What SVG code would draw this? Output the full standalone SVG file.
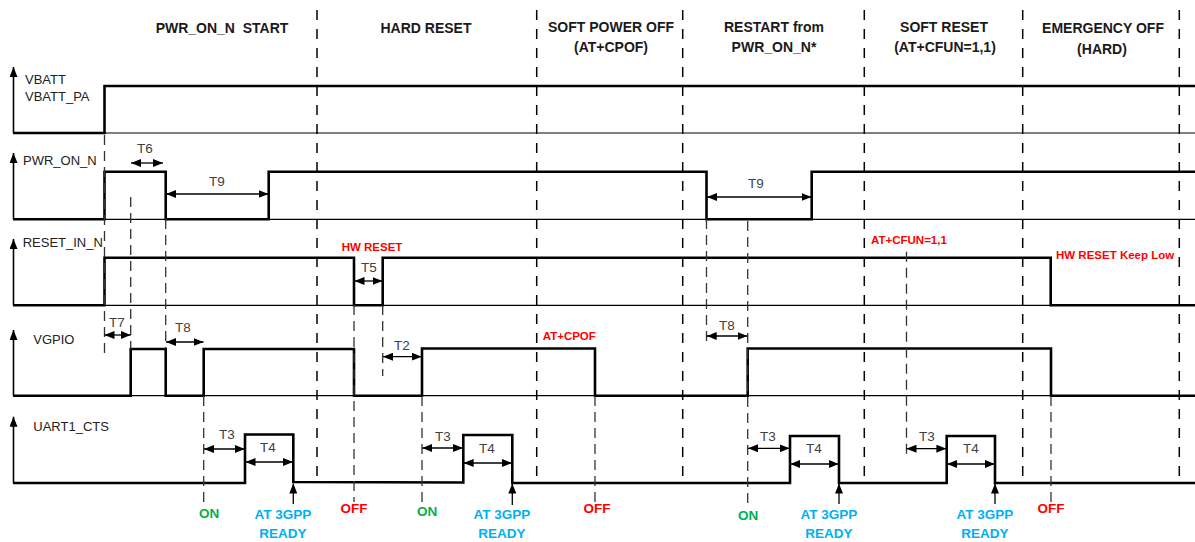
<svg xmlns="http://www.w3.org/2000/svg" width="1195" height="542" viewBox="0 0 1195 542">
<defs>
<marker id="ah" markerUnits="userSpaceOnUse" markerWidth="10" markerHeight="8" refX="10" refY="4" orient="auto-start-reverse" viewBox="0 0 10 8"><path d="M0,0 L10,4 L0,8 z" fill="#000"/></marker>
<marker id="ax" markerUnits="userSpaceOnUse" markerWidth="10" markerHeight="8" refX="10" refY="4" orient="auto" viewBox="0 0 10 8"><path d="M0,0 L10,4 L0,8 z" fill="#000"/></marker>
</defs>
<style>
.title{font-family:"Liberation Sans",Arial,sans-serif;font-size:14px;font-weight:bold;fill:#1a1a1a;text-anchor:middle;white-space:pre}
.sig{font-family:"Liberation Sans",Arial,sans-serif;font-size:13px;fill:#222}
.t{font-family:"Liberation Sans",Arial,sans-serif;font-size:13.5px;fill:#404040;text-anchor:middle}
.red{font-family:"Liberation Sans",Arial,sans-serif;font-size:11.5px;font-weight:bold;fill:#ff0000}
.ev{font-family:"Liberation Sans",Arial,sans-serif;font-size:13.5px;font-weight:bold;text-anchor:middle}
.on{fill:#00b050}.off{fill:#ff0000}.rdy{fill:#00b0f0}
.wave{fill:none;stroke:#000;stroke-width:2.6;stroke-linejoin:miter}
.base{stroke:#000;stroke-width:1.2}
.axis{stroke:#000;stroke-width:1.6;marker-end:url(#ax)}
.sec{stroke:#000;stroke-width:1.5;stroke-dasharray:10 9}
.mk{stroke:#333;stroke-width:1.3;stroke-dasharray:10 6}
.dim{stroke:#000;stroke-width:1.3;marker-start:url(#ah);marker-end:url(#ah)}
.up{stroke:#000;stroke-width:1.3;marker-end:url(#ax)}
</style>
<rect width="1195" height="542" fill="#fff"/>

<g id="titles">
<text class="title" x="222" y="33" xml:space="preserve">PWR_ON_N  START</text>
<text class="title" x="426" y="33">HARD RESET</text>
<text class="title" x="611" y="32">SOFT POWER OFF</text>
<text class="title" x="611" y="52">(AT+CPOF)</text>
<text class="title" x="774" y="32">RESTART from</text>
<text class="title" x="774" y="52">PWR_ON_N*</text>
<text class="title" x="944" y="32">SOFT RESET</text>
<text class="title" x="945" y="52">(AT+CFUN=1,1)</text>
<text class="title" x="1103" y="33">EMERGENCY OFF</text>
<text class="title" x="1102" y="54">(HARD)</text>
</g>

<g id="sections">
<line class="sec" x1="317" y1="10" x2="317" y2="478"/>
<line class="sec" x1="536.7" y1="10" x2="536.7" y2="478"/>
<line class="sec" x1="682.7" y1="10" x2="682.7" y2="476"/>
<line class="sec" x1="864.3" y1="10" x2="864.3" y2="477"/>
<line class="sec" x1="1022.7" y1="10" x2="1022.7" y2="477"/>
<line class="sec" x1="1179.3" y1="10" x2="1179.3" y2="483"/>
</g>

<g id="vbatt">
<line class="axis" x1="13.5" y1="133" x2="13.5" y2="67"/>
<line class="base" x1="13" y1="133" x2="1195" y2="133"/>
<polyline class="wave" points="13,133 104.5,133 104.5,86 1195,86"/>
<text class="sig" x="25" y="84">VBATT</text>
<text class="sig" x="25" y="101">VBATT_PA</text>
</g>

<g id="pwr_on_n">
<line class="axis" x1="13.5" y1="219.3" x2="13.5" y2="153"/>
<line class="base" x1="13" y1="219.3" x2="1195" y2="219.3"/>
<polyline class="wave" points="13,219.3 104.5,219.3 104.5,171.7 165.7,171.7 165.7,219.3 268.7,219.3 268.7,171.7 706.5,171.7 706.5,219.3 811.7,219.3 811.7,171.7 1195,171.7"/>
<text class="sig" x="23" y="165">PWR_ON_N</text>
</g>

<g id="reset_in_n">
<line class="axis" x1="13.5" y1="305.3" x2="13.5" y2="239"/>
<line class="base" x1="13" y1="305.3" x2="1195" y2="305.3"/>
<polyline class="wave" points="13,305.3 104.5,305.3 104.5,257.7 354,257.7 354,305.3 382.7,305.3 382.7,257.7 1050.7,257.7 1050.7,305.3 1195,305.3"/>
<text class="sig" x="22.7" y="247">RESET_IN_N</text>
<text class="red" x="341.7" y="250.7">HW RESET</text>
<text class="red" x="871" y="244.3">AT+CFUN=1,1</text>
<text class="red" x="1056" y="259.3">HW RESET Keep Low</text>
</g>

<g id="vgpio">
<line class="axis" x1="13.5" y1="395.7" x2="13.5" y2="330"/>
<line class="base" x1="13" y1="395.7" x2="1195" y2="395.7"/>
<polyline class="wave" points="13,395.7 130.7,395.7 130.7,349 165.7,349 165.7,395.7 203.7,395.7 203.7,349 354,349 354,395.7 422,395.7 422,348.5 595,348.5 595,395.7 747.7,395.7 747.7,348.5 1051,348.5 1051,395.7 1195,395.7"/>
<text class="sig" x="33.3" y="344">VGPIO</text>
<text class="red" x="542.7" y="340">AT+CPOF</text>
</g>

<g id="uart1_cts">
<line class="axis" x1="13.5" y1="483" x2="13.5" y2="416.7"/>
<polyline class="wave" points="13,483 245,483 245,434.5 293.3,434.5 293.3,482 463.3,482.5 463.3,435 512.3,435 512.3,483 790,483 790,436 839,436 839,483 946.7,483 946.7,436 995,436 995,483 1195,483"/>
<text class="sig" x="33.3" y="430.7">UART1_CTS</text>
</g>

<g id="connectors">
<line class="mk" x1="104.5" y1="135" x2="104.5" y2="358"/>
<line class="mk" x1="130.7" y1="197" x2="130.7" y2="349"/>
<line class="mk" x1="165.7" y1="219" x2="165.7" y2="349"/>
<line class="mk" x1="203.7" y1="396" x2="203.7" y2="505"/>
<line class="mk" x1="354" y1="305" x2="354" y2="502"/>
<line class="mk" x1="382.7" y1="305" x2="382.7" y2="376"/>
<line class="mk" x1="422" y1="396" x2="422" y2="503"/>
<line class="mk" x1="595" y1="396" x2="595" y2="502"/>
<line class="mk" x1="706.5" y1="219" x2="706.5" y2="345"/>
<line class="mk" x1="747.7" y1="221" x2="747.7" y2="505"/>
<line class="mk" x1="906.5" y1="251.7" x2="906.5" y2="457"/>
<line class="mk" x1="1051" y1="396" x2="1051" y2="503"/>

<line class="dim" x1="131" y1="163" x2="163" y2="163"/>
<line class="dim" x1="166" y1="194" x2="268.5" y2="194"/>
<line class="dim" x1="707" y1="197" x2="811.5" y2="197"/>
<line class="dim" x1="354.5" y1="281" x2="382.5" y2="281"/>
<line class="dim" x1="104.5" y1="335" x2="130.7" y2="335"/>
<line class="dim" x1="166" y1="342" x2="203.5" y2="342"/>
<line class="dim" x1="383" y1="356.7" x2="421.8" y2="356.7"/>
<line class="dim" x1="706.7" y1="336" x2="747.5" y2="336"/>
<line class="dim" x1="204" y1="449" x2="244.8" y2="449"/>
<line class="dim" x1="245.5" y1="462" x2="293" y2="462"/>
<line class="dim" x1="422.3" y1="448" x2="463" y2="448"/>
<line class="dim" x1="463.6" y1="463" x2="512" y2="463"/>
<line class="dim" x1="748" y1="448.3" x2="789.7" y2="448.3"/>
<line class="dim" x1="790.3" y1="464" x2="838.7" y2="464"/>
<line class="dim" x1="906.5" y1="448.7" x2="946.4" y2="448.7"/>
<line class="dim" x1="947" y1="464" x2="994.7" y2="464"/>

<line class="up" x1="293.3" y1="504" x2="293.3" y2="483.5"/>
<line class="up" x1="512.3" y1="505" x2="512.3" y2="483.5"/>
<line class="up" x1="839" y1="504" x2="839" y2="483.5"/>
<line class="up" x1="995" y1="504" x2="995" y2="483.5"/>
</g>

<g id="timing-labels">
<text class="t" x="145" y="153">T6</text>
<text class="t" x="217" y="186">T9</text>
<text class="t" x="756" y="188">T9</text>
<text class="t" x="369" y="272">T5</text>
<text class="t" x="117" y="327">T7</text>
<text class="t" x="183" y="332">T8</text>
<text class="t" x="402" y="350">T2</text>
<text class="t" x="727" y="330">T8</text>
<text class="t" x="227" y="439">T3</text>
<text class="t" x="268" y="452">T4</text>
<text class="t" x="443" y="441">T3</text>
<text class="t" x="487" y="453">T4</text>
<text class="t" x="768" y="441">T3</text>
<text class="t" x="814" y="453">T4</text>
<text class="t" x="927" y="441">T3</text>
<text class="t" x="971" y="453">T4</text>
</g>

<g id="events">
<text class="ev on" x="209" y="518">ON</text>
<text class="ev rdy" x="283" y="519">AT 3GPP</text>
<text class="ev rdy" x="283" y="538">READY</text>
<text class="ev off" x="354" y="513">OFF</text>
<text class="ev on" x="427" y="516">ON</text>
<text class="ev rdy" x="502" y="519">AT 3GPP</text>
<text class="ev rdy" x="502" y="538">READY</text>
<text class="ev off" x="597" y="513">OFF</text>
<text class="ev on" x="748" y="520">ON</text>
<text class="ev rdy" x="829" y="519">AT 3GPP</text>
<text class="ev rdy" x="829" y="538">READY</text>
<text class="ev rdy" x="985" y="519">AT 3GPP</text>
<text class="ev rdy" x="985" y="538">READY</text>
<text class="ev off" x="1051" y="513">OFF</text>
</g>
</svg>
